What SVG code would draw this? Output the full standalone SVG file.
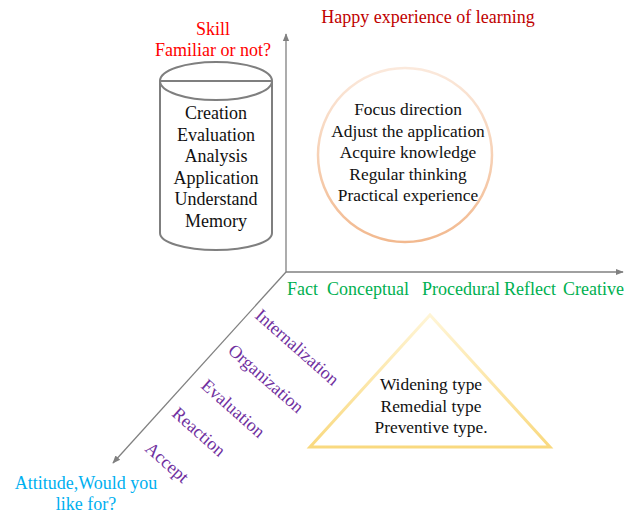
<svg xmlns="http://www.w3.org/2000/svg" width="624" height="513" viewBox="0 0 624 513">
<style>
text{font-family:'Liberation Serif','Times New Roman',serif;font-size:18px}
.blk{fill:#111}
.sm{font-size:17.4px}
.grn{fill:#00b050}
.pur{fill:#7030a0}
.axis{stroke:#808080;stroke-width:1.3;fill:none}
</style>
<defs>
<marker id="ah" viewBox="0 0 10 10" refX="9" refY="5" markerWidth="8" markerHeight="8" markerUnits="userSpaceOnUse" orient="auto">
<path d="M0,1 L10,5 L0,9 z" fill="#808080"/>
</marker>
<linearGradient id="cg" x1="0" y1="0" x2="0" y2="1">
<stop offset="0" stop-color="#fbe9dc"/>
<stop offset="1" stop-color="#f2b98f"/>
</linearGradient>
<linearGradient id="tg" x1="0" y1="0" x2="0" y2="1">
<stop offset="0" stop-color="#fff5d6"/>
<stop offset="1" stop-color="#f9d97f"/>
</linearGradient>
</defs>
<g id="connectors">
<line class="axis" x1="286" y1="272" x2="286" y2="34" marker-end="url(#ah)"/>
<line class="axis" x1="286" y1="272" x2="623" y2="272" marker-end="url(#ah)"/>
<line class="axis" x1="286" y1="272" x2="113" y2="463" marker-end="url(#ah)"/>
</g>
<g id="title">
<text x="428" y="23" text-anchor="middle" fill="#c00000">Happy experience of learning</text>
</g>
<g id="skill">
<text x="213" y="35" text-anchor="middle" fill="#ff0000">Skill</text>
<text x="213" y="56" text-anchor="middle" fill="#ff0000">Familiar or not?</text>
</g>
<g id="cylinder">
<path d="M160,81 L160,233 A56,17 0 0 0 272,233 L272,81" fill="#fff" stroke="#7f7f7f" stroke-width="2"/>
<ellipse cx="216" cy="81" rx="56" ry="19" fill="#fff" stroke="#7f7f7f" stroke-width="2"/>
<line x1="160" y1="81" x2="272" y2="81" stroke="#7f7f7f" stroke-width="2"/>
<text class="blk" text-anchor="middle" x="216" y="119">Creation</text>
<text class="blk" text-anchor="middle" x="216" y="140.5">Evaluation</text>
<text class="blk" text-anchor="middle" x="216" y="162">Analysis</text>
<text class="blk" text-anchor="middle" x="216" y="183.5">Application</text>
<text class="blk" text-anchor="middle" x="216" y="205">Understand</text>
<text class="blk" text-anchor="middle" x="216" y="226.5">Memory</text>
</g>
<g id="circle">
<circle cx="405" cy="155" r="87" fill="#fff" stroke="url(#cg)" stroke-width="2.5"/>
<text class="blk sm" text-anchor="middle" x="408" y="115">Focus direction</text>
<text class="blk sm" text-anchor="middle" x="408" y="136.5">Adjust the application</text>
<text class="blk sm" text-anchor="middle" x="408" y="158">Acquire knowledge</text>
<text class="blk sm" text-anchor="middle" x="408" y="179.5">Regular thinking</text>
<text class="blk sm" text-anchor="middle" x="408" y="201">Practical experience</text>
</g>
<g id="knowledge-types">
<text class="grn" x="287" y="295">Fact</text>
<text class="grn" x="327" y="295">Conceptual</text>
<text class="grn" x="422" y="295">Procedural</text>
<text class="grn" x="504" y="295">Reflect</text>
<text class="grn" x="563" y="295">Creative</text>
</g>
<g id="attitude-levels">
<text class="pur" transform="translate(254,317) rotate(41.5)">Internalization</text>
<text class="pur" transform="translate(227,352) rotate(41.5)">Organization</text>
<text class="pur" transform="translate(200,387) rotate(41.5)">Evaluation</text>
<text class="pur" transform="translate(171,415) rotate(41.5)">Reaction</text>
<text class="pur" transform="translate(144,450) rotate(41.5)">Accept</text>
</g>
<g id="triangle">
<polygon points="430,315 550,447 310,447" fill="#fff" stroke="url(#tg)" stroke-width="3" stroke-linejoin="miter"/>
<text class="blk sm" text-anchor="middle" x="431" y="390">Widening type</text>
<text class="blk sm" text-anchor="middle" x="431" y="412">Remedial type</text>
<text class="blk sm" text-anchor="middle" x="431" y="433">Preventive type.</text>
</g>
<g id="attitude">
<text x="86" y="489" text-anchor="middle" fill="#00b0f0">Attitude,Would you</text>
<text x="86" y="510" text-anchor="middle" fill="#00b0f0">like for?</text>
</g>
</svg>
